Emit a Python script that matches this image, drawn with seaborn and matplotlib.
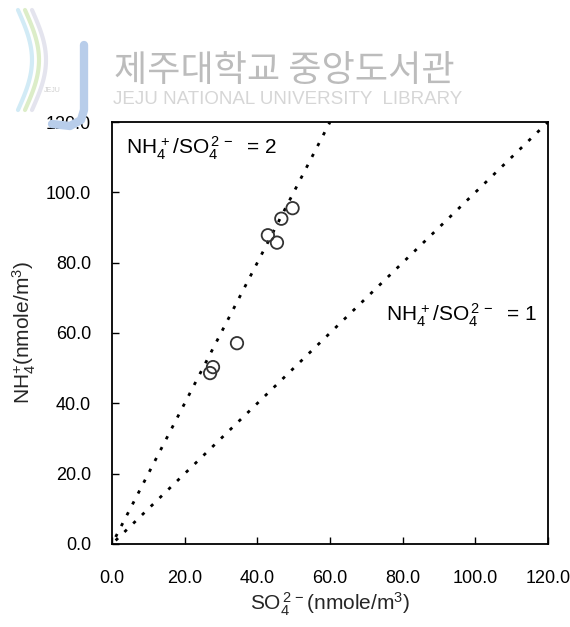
import matplotlib
matplotlib.use("Agg")
import matplotlib.pyplot as plt
import numpy as np
import pandas as pd
import seaborn as sns
from matplotlib.patches import Rectangle

# measured points (SO4 2-, NH4+) in nmole/m3
so4 = [27.0, 27.8, 34.4, 42.9, 45.4, 46.6, 49.7]
nh4 = [48.6, 50.3, 57.1, 87.8, 85.7, 92.5, 95.5]

# equivalent ratio lines NH4+/SO4 2-
ratios = [2, 1]
ratio_labels = [r"NH$_4^{\,+}$/SO$_4^{\,2\,-}$  = 2", r"NH$_4^{\,+}$/SO$_4^{\,2\,-}$  = 1"]
label_pos = [(3.9, 112.5), (75.5, 65.0)]

ticks = [0, 20, 40, 60, 80, 100, 120]
tick_labels = ["0.0", "20.0", "40.0", "60.0", "80.0", "100.0", "120.0"]

sns.set_theme(style="white")
plt.rcParams["font.family"] = ["Liberation Sans", "Noto Sans CJK KR", "DejaVu Sans"]
plt.rcParams["mathtext.fontset"] = "custom"
plt.rcParams["mathtext.rm"] = "Liberation Sans"
plt.rcParams["mathtext.it"] = "Liberation Sans"
plt.rcParams["mathtext.default"] = "regular"

fig = plt.figure(figsize=(5.7, 6.27), dpi=100)
ax = fig.add_axes([0.1965, 0.1324, 0.7649, 0.673])

df = pd.DataFrame({"so4": so4, "nh4": nh4})

for r in ratios:
    x_end = 120 / r
    line = pd.DataFrame({"x": [1.0, x_end], "y": [1.0 * r, x_end * r]})
    sns.lineplot(data=line, x="x", y="y", ax=ax, color="black", lw=2.0,
                 linestyle=(0, (1.2, 3.2)), zorder=2)

sns.scatterplot(data=df, x="so4", y="nh4", ax=ax, marker="o", s=80,
                facecolor="none", edgecolor="#333333", linewidth=1.3, zorder=3)

for txt, (tx, ty) in zip(ratio_labels, label_pos):
    ax.text(tx, ty, txt, fontsize=15, color="black", va="center", ha="left")

ax.set_xlim(0, 120)
ax.set_ylim(0, 120)
ax.set_xticks(ticks)
ax.set_xticklabels(tick_labels)
ax.set_yticks(ticks)
ax.set_yticklabels(tick_labels)
ax.tick_params(axis="both", direction="in", length=5, width=1, colors="black",
               labelsize=13, top=False, right=False)
ax.tick_params(axis="x", bottom=True, pad=19)
ax.tick_params(axis="y", left=True, pad=15)
for s in ax.spines.values():
    s.set_color("black")
    s.set_linewidth(1.3)

ax.set_xlabel(r"SO$_4^{\,2\,-}$(nmole/m$^3$)", fontsize=15, labelpad=2)
ax.set_ylabel(r"NH$_4^{+}$(nmole/m$^3$)", fontsize=15, labelpad=6)

# library watermark band on top
fig.patches.append(Rectangle((0, 1 - 116 / 627), 1, 116 / 627, transform=fig.transFigure,
                             facecolor="white", edgecolor="none", zorder=10, alpha=0.95))
fig.text(284 / 570, 1 - 71 / 627, "제주대학교 중앙도서관", fontsize=26, color="#bcbcbc",
         ha="center", va="center", zorder=11, fontweight="light",
         family=["Noto Sans CJK KR", "DejaVu Sans"])
fig.text(288 / 570, 1 - 100 / 627, "JEJU NATIONAL UNIVERSITY  LIBRARY", fontsize=13.5,
         color="#d6d6d6", ha="center", va="center", zorder=11)

# logo: blue J and swooshes
t = np.linspace(0, 1, 30)
jx = 84 + 0 * t
jy = 45 + 65 * t
fig.add_artist(plt.Line2D(np.r_[jx, 81, 70, 52] / 570, 1 - np.r_[jy, 120, 126, 124] / 627,
                          color="#b8cdea", lw=6, zorder=11, solid_capstyle="round"))
for dx, c in [(0, "#d2ebf6"), (7, "#dcedc8"), (14, "#e4e4ee")]:
    sx = 18 + dx + 14 * np.sin(np.pi * t)
    sy = 110 - 100 * t
    fig.add_artist(plt.Line2D(sx / 570, 1 - sy / 627, color=c, lw=3, zorder=11))
fig.text(52 / 570, 1 - 90 / 627, "JEJU", fontsize=5, color="#cfcfcf", ha="center",
         va="center", zorder=12)

fig.savefig("out.png", dpi=100)
